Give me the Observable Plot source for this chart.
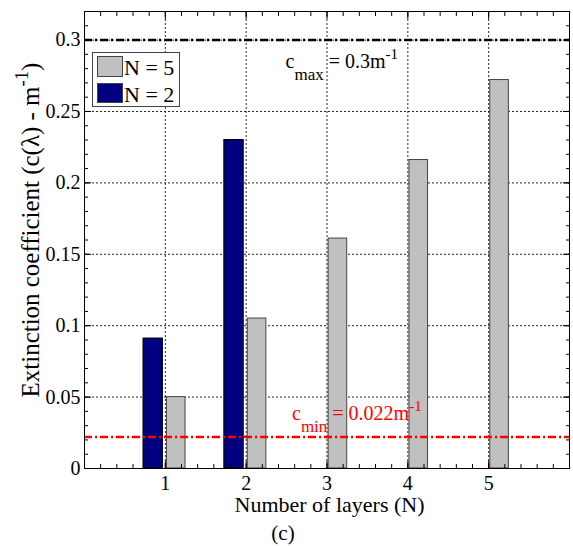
<!DOCTYPE html>
<html><head><meta charset="utf-8">
<script src="https://cdn.jsdelivr.net/npm/d3@7"></script>
<script src="https://cdn.jsdelivr.net/npm/@observablehq/plot@0.6"></script>
<style>
body{margin:0;background:#fff;font-family:"Liberation Serif","Times New Roman",serif;}
#wrap{position:relative;width:573px;height:546px;}
#wrap svg{position:absolute;left:0;top:0;}
.legend{position:absolute;left:92px;top:52px;width:88px;height:55px;border:1px solid #444;background:#fff;box-sizing:border-box;}
.sw{position:absolute;left:4px;width:26px;height:21px;box-sizing:border-box;border:1px solid #444;}
.lt{position:absolute;left:31px;font-size:22px;line-height:22px;color:#000;white-space:nowrap;}
</style></head>
<body><div id="wrap"></div>
<script>
// ---- data ----
const layersN5 = [1, 2, 3, 4, 5];
const valuesN5 = [0.050, 0.105, 0.161, 0.216, 0.272];
const layersN2 = [1, 2];
const valuesN2 = [0.091, 0.230];
const seriesNames = ["N = 5", "N = 2"];
const seriesColors = ["#c0c0c0", "#000080"];
const cMax = 0.3, cMin = 0.022;
const cMaxLabel = "c_{max} = 0.3m^{-1}";
const cMinLabel = "c_{min} = 0.022m^{-1}";
const xTicks = [1, 2, 3, 4, 5];
const yTicks = [0, 0.05, 0.1, 0.15, 0.2, 0.25, 0.3];
const xLabel = "Number of layers (N)";
const yLabel = "Extinction coefficient (c(λ) - m^{-1})";
const caption = "(c)";

const n5 = layersN5.map((l, i) => ({layer: l, value: valuesN5[i]}));
const n2 = layersN2.map((l, i) => ({layer: l, value: valuesN2[i]}));
const xMinor = d3.range(0, 30.5).map(i => i / 5);
const yMinor = d3.range(0, 32.5).map(i => i / 100);

const FONT = '"Liberation Serif","Times New Roman",serif';
const chart = Plot.plot({
  width: 573, height: 546,
  marginTop: 11, marginRight: 4, marginBottom: 78, marginLeft: 84,
  style: {fontFamily: FONT, fontSize: "20px", color: "#000", background: "#fff"},
  x: {domain: [0, 6], axis: null},
  y: {domain: [0, 0.32], axis: null},
  marks: [
    Plot.gridX(xTicks, {stroke: "#000", strokeOpacity: 0.85, strokeDasharray: "2,2"}),
    Plot.gridY(yTicks.slice(1), {stroke: "#000", strokeOpacity: 0.85, strokeDasharray: "2,2"}),
    Plot.rectY(n2, {x1: d => d.layer - 0.27, x2: d => d.layer - 0.03, y1: 0, y2: "value", fill: seriesColors[1], stroke: "#000", strokeWidth: 1}),
    Plot.rectY(n5, {x1: d => d.layer + 0.02, x2: d => d.layer + 0.25, y1: 0, y2: "value", fill: seriesColors[0], stroke: "#444", strokeWidth: 1}),
    Plot.ruleY([cMax], {stroke: "#000", strokeWidth: 2.5, strokeDasharray: "8,3,2,3"}),
    Plot.ruleY([cMin], {stroke: "#ff0000", strokeWidth: 2.5, strokeDasharray: "8,3,2,3"}),
    Plot.text([cMaxLabel], {x: 2.487, y: 0.2846, textAnchor: "start", fontSize: 20, fill: "#000"}),
    Plot.text([cMinLabel], {x: 2.567, y: 0.0381, textAnchor: "start", fontSize: 20, fill: "#ff0000"}),
    Plot.frame({stroke: "#000"}),
    // inner ticks
    Plot.axisX(xMinor, {anchor: "bottom", tickSize: -4, tickFormat: () => "", label: null}),
    Plot.axisX(xMinor, {anchor: "top", tickSize: -4, tickFormat: () => "", label: null}),
    Plot.axisY(yMinor, {anchor: "left", tickSize: -4, tickFormat: () => "", label: null}),
    Plot.axisY(yMinor, {anchor: "right", tickSize: -4, tickFormat: () => "", label: null}),
    Plot.axisX(xTicks, {anchor: "bottom", tickSize: -7, tickFormat: () => "", label: null}),
    Plot.axisX(xTicks, {anchor: "top", tickSize: -7, tickFormat: () => "", label: null}),
    Plot.axisY(yTicks, {anchor: "left", tickSize: -7, tickFormat: () => "", label: null}),
    Plot.axisY(yTicks, {anchor: "right", tickSize: -7, tickFormat: () => "", label: null}),
    // tick labels
    Plot.axisX(xTicks, {anchor: "bottom", tickSize: 0, tickPadding: 7, fontSize: 20, tickFormat: d => String(d), label: null}),
    Plot.axisY(yTicks, {anchor: "left", tickSize: 0, tickPadding: 4, fontSize: 20, tickFormat: d => String(d), label: null}),
    Plot.text([xLabel], {frameAnchor: "bottom", lineAnchor: "middle", dx: 2.5, dy: 36, fontSize: 22, fill: "#000"}),
    Plot.text([yLabel], {frameAnchor: "left", textAnchor: "middle", lineAnchor: "middle", rotate: -90, dx: -54, dy: -10, fontSize: 24, fill: "#000"}),
    Plot.text([caption], {frameAnchor: "bottom", lineAnchor: "middle", dx: -44, dy: 65, fontSize: 21, fill: "#000"})
  ]
});

// rich text: _{sub} and ^{sup}
const NS = "http://www.w3.org/2000/svg";
let yLabelNode = null;
chart.querySelectorAll("text").forEach(t => {
  const s = t.textContent;
  if (s === yLabel) yLabelNode = t;
  if (!/[_^]\{/.test(s)) return;
  const parts = s.split(/([_^]\{[^}]*\})/);
  t.textContent = "";
  parts.forEach(p => {
    if (!p) return;
    const ts = document.createElementNS(NS, "tspan");
    if (p[0] === "_") {
      ts.textContent = p.slice(2, -1);
      ts.setAttribute("font-size", "0.85em");
      ts.setAttribute("baseline-shift", "-0.7em");
    } else if (p[0] === "^") {
      ts.textContent = p.slice(2, -1);
      ts.setAttribute("font-size", "0.75em");
      ts.setAttribute("baseline-shift", "0.6em");
    } else {
      ts.textContent = p;
    }
    t.appendChild(ts);
  });
});

const wrap = document.getElementById("wrap");
wrap.appendChild(chart);

// fit the rotated y label to the length it has in the reference
if (yLabelNode) {
  const len = yLabelNode.getComputedTextLength();
  if (len > 0) yLabelNode.setAttribute("font-size", (24 * 335 / len).toFixed(2));
}

// legend
const lg = document.createElement("div");
lg.className = "legend";
seriesNames.forEach((name, i) => {
  const sw = document.createElement("div");
  sw.className = "sw";
  sw.style.top = (i === 0 ? 3 : 30) + "px";
  sw.style.height = (i === 0 ? 21 : 20) + "px";
  sw.style.background = seriesColors[i];
  const tx = document.createElement("div");
  tx.className = "lt";
  tx.style.top = (i === 0 ? 3.5 : 30.5) + "px";
  tx.textContent = name;
  lg.appendChild(sw); lg.appendChild(tx);
});
wrap.appendChild(lg);
</script>
</body></html>
